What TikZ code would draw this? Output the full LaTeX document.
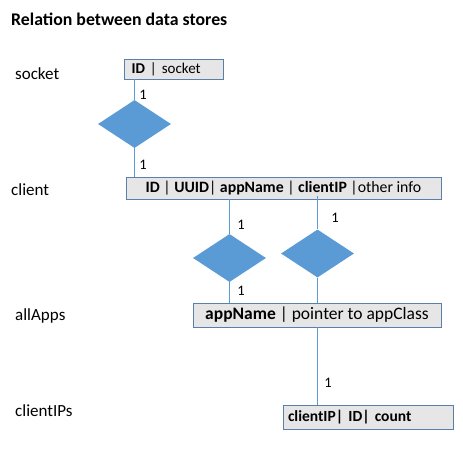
\documentclass[tikz,border=0pt]{standalone}
\usepackage{fontspec}
\setmainfont{Carlito}
\usetikzlibrary{shapes.geometric}
\definecolor{lineblue}{HTML}{5B9BD5}
\definecolor{boxedge}{HTML}{5A7FA8}
\definecolor{boxfill}{HTML}{E6E6E6}
\tikzset{
  rec/.style={draw=boxedge, fill=boxfill, line width=0.8pt, inner sep=0pt, minimum height=#1},
  dia/.style={diamond, fill=lineblue, draw=none, inner sep=0pt, minimum width=73pt, minimum height=48pt},
  conn/.style={draw=lineblue, line width=0.9pt},
  lbl/.style={font=\fontsize{17}{20}\selectfont, anchor=west, inner sep=0pt},
  one/.style={font=\fontsize{14.5}{17}\selectfont, inner sep=0pt}
}
\begin{document}
\begin{tikzpicture}[x=1pt,y=-1pt]
\useasboundingbox (0,0) rectangle (463,448);
\node[anchor=west, inner sep=0pt, font=\fontsize{17.8}{21}\selectfont\bfseries] (title) at (11,19) {Relation between data stores};
\node[lbl] (lsock) at (15,74) {socket};
\node[lbl] (lclient) at (11,190) {client};
\node[lbl] (lapps) at (15,316) {allApps};
\node[lbl] (lips) at (15,411) {clientIPs};

\node[rec=20pt, minimum width=99pt, font=\fontsize{15}{18}\selectfont, text width=84pt, align=left] (sock) at (173.5,69) {\textbf{ID} | socket};
\node[rec=22pt, minimum width=315pt, font=\fontsize{15.8}{18}\selectfont, align=center] (client) at (283.5,188) {\textbf{ID} | \textbf{UUID}| \textbf{appName} | \textbf{clientIP} |other info};
\node[rec=24pt, minimum width=248pt, font=\fontsize{17.5}{20}\selectfont, align=center] (apps) at (317,315) {\textbf{appName} | pointer to appClass};
\node[rec=24pt, minimum width=170pt, font=\fontsize{15.5}{18}\selectfont, text width=160pt, align=left] (ips) at (368,417) {\textbf{clientIP| ID| count}};

\node[dia] (d1) at (134.5,124) {};
\node[dia] (d2) at (229.5,258) {};
\node[dia] (d3) at (317.5,253.5) {};

\draw[conn] (sock.south -| d1.north) -- (d1.north);
\draw[conn] (d1.south) -- (client.north -| d1.south);
\draw[conn] (client.south -| d2.north) -- (d2.north);
\draw[conn] (d2.south) -- (apps.north -| d2.south);
\draw[conn] ([yshift=3pt]client.south -| d3.north) -- (d3.north);
\draw[conn] (d3.south) -- (apps.north -| d3.south);
\draw[conn] (apps.south -| d3.south) -- (ips.north -| d3.south);

\node[one] (n1) at (143,95) {1};
\node[one] (n2) at (143,165) {1};
\node[one] (n3) at (241,225) {1};
\node[one] (n4) at (241,291) {1};
\node[one] (n5) at (335,218) {1};
\node[one] (n6) at (328,383) {1};
\end{tikzpicture}
\end{document}
